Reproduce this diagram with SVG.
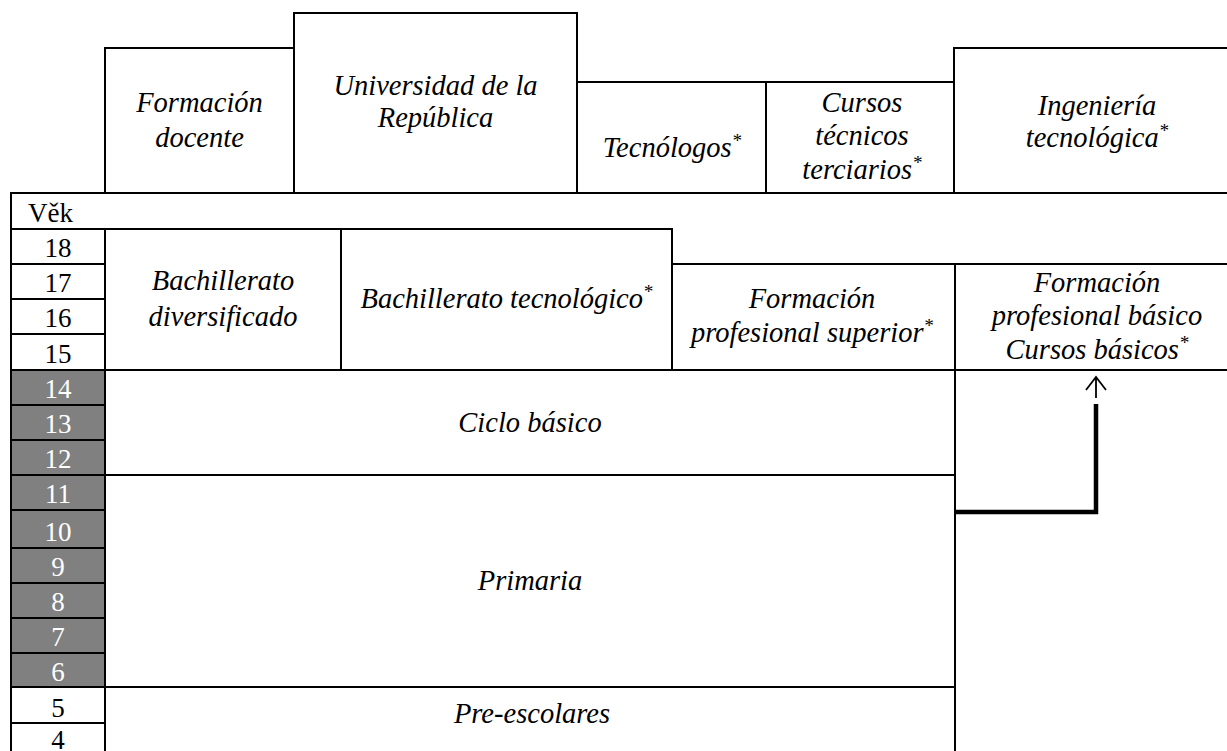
<svg xmlns="http://www.w3.org/2000/svg" width="1227" height="751" viewBox="0 0 1227 751">
<style>
.f{font-family:"Liberation Serif",Tinos,"Times New Roman",Times,"Nimbus Roman","Nimbus Roman No9 L",FreeSerif,"Noto Serif","DejaVu Serif",serif}
.b{fill:#fff;stroke:#000;stroke-width:2}
.g{fill:#808080;stroke:#000;stroke-width:2}
.t{font-style:italic;font-size:28.5px;text-anchor:middle;fill:#000}
.n{font-size:27px;text-anchor:middle;fill:#000}
.w{fill:#fff}
.s{font-size:19px}
.c{fill:none;stroke:#000}
</style>
<rect x="0" y="0" width="1227" height="751" fill="#fff"/>
<g class="f">
<g id="formacion-docente">
<rect class="b" x="105" y="48" width="189" height="145"/>
<text class="t" x="199.5" y="112">Formación</text>
<text class="t" x="199.5" y="147">docente</text>
</g>
<g id="universidad">
<rect class="b" x="294" y="13" width="283" height="180"/>
<text class="t" x="435.5" y="95">Universidad de la</text>
<text class="t" x="435.5" y="127">República</text>
</g>
<g id="tecnologos">
<rect class="b" x="577" y="82" width="189" height="111"/>
<text class="t" x="672" y="157">Tecnólogos<tspan class="s" dy="-10">*</tspan></text>
</g>
<g id="cursos-tecnicos">
<rect class="b" x="766" y="82" width="188" height="111"/>
<text class="t" x="862" y="112">Cursos</text>
<text class="t" x="862" y="145">técnicos</text>
<text class="t" x="862" y="179">terciarios<tspan class="s" dy="-10">*</tspan></text>
</g>
<g id="ingenieria">
<rect class="b" x="954" y="48" width="300" height="145"/>
<text class="t" x="1097" y="115">Ingeniería</text>
<text class="t" x="1097" y="147">tecnológica<tspan class="s" dy="-10">*</tspan></text>
</g>

<g id="tabla">
<rect class="b" x="11" y="193" width="1260" height="600"/>
<text class="n" x="28" y="222" style="text-anchor:start">Věk</text>
</g>

<g id="edades">
<rect class="b" x="11" y="229" width="94" height="35"/>
<rect class="b" x="11" y="264" width="94" height="35"/>
<rect class="b" x="11" y="299" width="94" height="35"/>
<rect class="b" x="11" y="334" width="94" height="36"/>
<rect class="g" x="11" y="370" width="94" height="35"/>
<rect class="g" x="11" y="405" width="94" height="35"/>
<rect class="g" x="11" y="440" width="94" height="35"/>
<rect class="g" x="11" y="475" width="94" height="35"/>
<rect class="g" x="11" y="510" width="94" height="38"/>
<rect class="g" x="11" y="548" width="94" height="35"/>
<rect class="g" x="11" y="583" width="94" height="35"/>
<rect class="g" x="11" y="618" width="94" height="35"/>
<rect class="g" x="11" y="653" width="94" height="34"/>
<rect class="b" x="11" y="687" width="94" height="36"/>
<rect class="b" x="11" y="723" width="94" height="40"/>
<text class="n" x="58" y="257">18</text>
<text class="n" x="58" y="292">17</text>
<text class="n" x="58" y="327">16</text>
<text class="n" x="58" y="363">15</text>
<text class="n w" x="58" y="398">14</text>
<text class="n w" x="58" y="433">13</text>
<text class="n w" x="58" y="468">12</text>
<text class="n w" x="58" y="503">11</text>
<text class="n w" x="58" y="541">10</text>
<text class="n w" x="58" y="576">9</text>
<text class="n w" x="58" y="611">8</text>
<text class="n w" x="58" y="646">7</text>
<text class="n w" x="58" y="681">6</text>
<text class="n" x="58" y="717">5</text>
<text class="n" x="58" y="749">4</text>
</g>

<g id="bachillerato-diversificado">
<rect class="b" x="105" y="229" width="236" height="141"/>
<text class="t" x="223" y="290">Bachillerato</text>
<text class="t" x="223" y="326">diversificado</text>
</g>
<g id="bachillerato-tecnologico">
<rect class="b" x="341" y="229" width="331" height="141"/>
<text class="t" x="506.5" y="308">Bachillerato tecnológico<tspan class="s" dy="-10">*</tspan></text>
</g>
<g id="fp-superior">
<rect class="b" x="672" y="264" width="283" height="106"/>
<text class="t" x="812" y="308">Formación</text>
<text class="t" x="812" y="342">profesional superior<tspan class="s" dy="-10">*</tspan></text>
</g>
<g id="fp-basico">
<rect class="b" x="955" y="264" width="300" height="106"/>
<text class="t" x="1097" y="292">Formación</text>
<text class="t" x="1097" y="325">profesional básico</text>
<text class="t" x="1097" y="359">Cursos básicos<tspan class="s" dy="-10">*</tspan></text>
</g>
<g id="ciclo-basico">
<rect class="b" x="105" y="370" width="850" height="105"/>
<text class="t" x="530" y="432">Ciclo básico</text>
</g>
<g id="primaria">
<rect class="b" x="105" y="475" width="850" height="212"/>
<text class="t" x="530" y="590">Primaria</text>
</g>
<g id="pre-escolares">
<rect class="b" x="105" y="687" width="850" height="80"/>
<text class="t" x="532" y="723">Pre-escolares</text>
</g>
<g id="lado-derecho">
<rect class="b" x="955" y="370" width="300" height="400"/>
</g>
</g>
<g id="connectors">
<path class="c" d="M955 512 H1096 V404" stroke-width="4.5"/>
<path class="c" d="M1086 390 L1096 377 L1106 390 M1096 377 V398" stroke-width="1.8"/>
</g>
</svg>
